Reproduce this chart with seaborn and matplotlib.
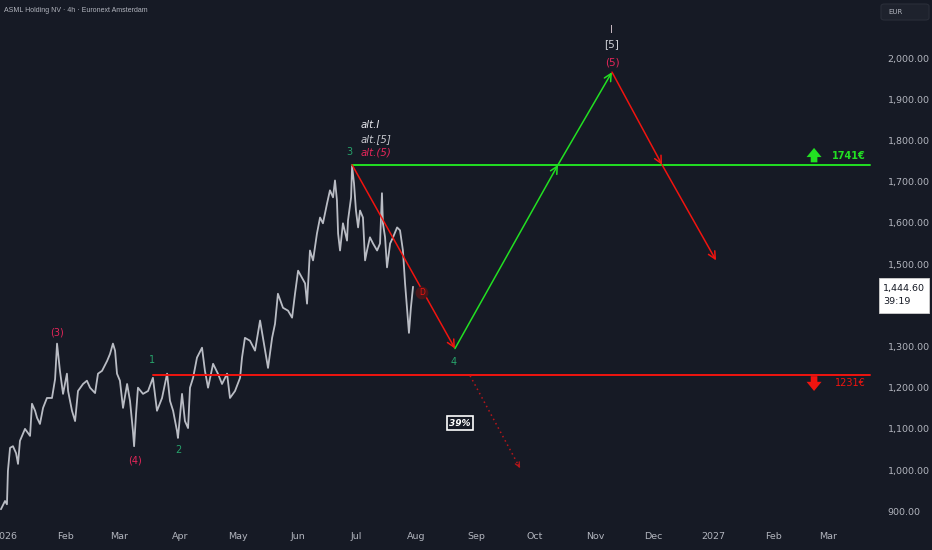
import pandas as pd
import numpy as np
import matplotlib
matplotlib.use("Agg")
import matplotlib.pyplot as plt
from matplotlib.patches import Rectangle, FancyBboxPatch
import seaborn as sns

# ==========================================
# Data
# ==========================================

# days since 2026-01-01 and price in EUR
price_days = [
    -2.1, 0.0, 1.0, 1.5, 2.6, 4.1, 5.7, 6.7, 7.7, 10.3, 12.9, 13.9, 15.5, 16.5,
    18.0, 19.6, 21.6, 24.2, 25.8, 26.8, 28.3, 29.9, 31.9, 32.5, 34.5, 36.1,
    37.6, 40.2, 42.2, 43.8, 46.4, 47.9, 50.0, 52.6, 54.1, 55.6, 56.7, 57.7,
    59.2, 60.8, 62.9, 64.4, 65.9, 66.5, 67.5, 68.5, 71.1, 73.7, 76.2, 78.3,
    80.9, 83.5, 85.0, 86.6, 88.6, 89.1, 91.2, 92.7, 94.3, 95.3, 96.9, 98.9,
    101.5, 103.0, 104.6, 107.2, 109.7, 111.8, 114.4, 115.9, 118.5, 121.1,
    122.1, 123.6, 126.2, 128.8, 131.4, 132.9, 135.5, 137.6, 139.1, 140.6,
    143.2, 145.8, 147.9, 149.4, 151.0, 153.0, 154.6, 155.6, 157.1, 158.7,
    160.7, 162.3, 163.8, 165.9, 167.4, 169.0, 170.0, 171.0, 171.6, 172.6,
    174.1, 176.2, 176.7, 178.3, 178.8, 179.8, 180.8, 181.9, 182.9, 184.4,
    185.5, 186.5, 188.0, 189.6, 191.7, 193.2, 194.2, 194.7, 195.8, 196.8,
    198.4, 199.9, 202.0, 203.5, 205.0, 206.1, 207.1, 208.1, 209.1, 210.2,
]
price_values = [
    905, 925, 917, 998, 1054, 1058, 1041, 1015, 1071, 1100, 1083, 1161, 1144,
    1127, 1112, 1151, 1175, 1175, 1221, 1307, 1241, 1185, 1234, 1192, 1144,
    1119, 1192, 1209, 1217, 1200, 1187, 1234, 1241, 1265, 1282, 1307, 1290,
    1234, 1217, 1151, 1209, 1168, 1095, 1058, 1136, 1200, 1185, 1192, 1224,
    1144, 1175, 1234, 1168, 1144, 1095, 1078, 1185, 1119, 1102, 1200, 1224,
    1273, 1297, 1241, 1200, 1258, 1234, 1209, 1234, 1175, 1192, 1224, 1273,
    1321, 1314, 1290, 1363, 1321, 1248, 1321, 1355, 1428, 1394, 1387, 1370,
    1428, 1484, 1467, 1453, 1404, 1533, 1509, 1574, 1613, 1599, 1647, 1679,
    1662, 1703, 1655, 1574, 1533, 1599, 1557, 1606, 1662, 1738, 1696, 1630,
    1589, 1630, 1613, 1509, 1533, 1565, 1550, 1533, 1550, 1672, 1599, 1565,
    1492, 1550, 1565, 1589, 1582, 1533, 1453, 1394, 1333, 1394, 1445,
]

# projected wave path (main scenario)
wave_days = [178.8, 231.8, 284.9, 312.7, 338.5, 366.3]
wave_prices = [1741, 1295, 1741, 1966, 1741, 1509]
wave_colors = ['red', 'green', 'green', 'red', 'red']

# alternative path (dotted)
alt_days = [239.6, 265.3]
alt_prices = [1229, 1005]

# key levels
upper_level = 1741
lower_level = 1231
upper_start = 178.8
lower_start = 76.2
level_end = 445.6

last_price = 1444.60
countdown = "39:19"

month_days = [0, 31, 59, 90, 120, 151, 181, 212, 243, 273, 304, 334, 365, 396, 424]
month_labels = ['2026', 'Feb', 'Mar', 'Apr', 'May', 'Jun', 'Jul', 'Aug',
                'Sep', 'Oct', 'Nov', 'Dec', '2027', 'Feb', 'Mar']
price_ticks = [900, 1000, 1100, 1200, 1300, 1500, 1600, 1700, 1800, 1900, 2000]

# ==========================================
# Style
# ==========================================

BG = '#161a25'
TXT = '#b2b5be'
GREEN = '#22e022'
RED = '#f0140f'
CRIMSON = '#e6265a'
WAVEGREEN = '#27a36b'
line_col = {'red': RED, 'green': GREEN}

sns.set_theme(style="dark", rc={
    'axes.facecolor': BG,
    'figure.facecolor': BG,
    'axes.edgecolor': BG,
})
plt.rcParams['font.family'] = ['DejaVu Sans']

fig = plt.figure(figsize=(9.32, 5.5), dpi=100)
ax = fig.add_axes([0, 28 / 550, 875 / 932, 522 / 550])

# ==========================================
# Price
# ==========================================

df = pd.DataFrame({'day': price_days, 'price': price_values})
sns.lineplot(data=df, x='day', y='price', ax=ax, color='#b9bcc4', lw=1.3)

# levels
ax.plot([upper_start, level_end], [upper_level, upper_level], color=GREEN, lw=1.4)
ax.plot([lower_start, level_end], [lower_level, lower_level], color=RED, lw=1.4)

# wave arrows
for i, c in enumerate(wave_colors):
    ax.annotate('', xy=(wave_days[i + 1], wave_prices[i + 1]),
                xytext=(wave_days[i], wave_prices[i]),
                arrowprops=dict(arrowstyle='->', color=line_col[c], lw=1.1,
                                mutation_scale=13, shrinkA=0, shrinkB=0))

ax.plot(alt_days, alt_prices, color='#b8161a', lw=1.1, ls=(0, (1, 2.2)))
ax.annotate('', xy=(alt_days[1], alt_prices[1]),
            xytext=(alt_days[1] - 1.0, alt_prices[1] + 9),
            arrowprops=dict(arrowstyle='->', color='#b8161a', lw=0.9,
                            mutation_scale=8, shrinkA=0, shrinkB=0))

# ==========================================
# Labels
# ==========================================

ax.text(26.8, 1335, '(3)', color=CRIMSON, fontsize=7, ha='center', va='center')
ax.text(67.0, 1024, '(4)', color=CRIMSON, fontsize=7, ha='center', va='center')
ax.text(75.7, 1267, '1', color=WAVEGREEN, fontsize=7, ha='center', va='center')
ax.text(89.1, 1049, '2', color=WAVEGREEN, fontsize=7, ha='center', va='center')
ax.text(177.2, 1772, '3', color=WAVEGREEN, fontsize=7, ha='center', va='center')
ax.text(231.3, 1262, '4', color=WAVEGREEN, fontsize=7, ha='center', va='center')

ax.text(183.4, 1837, 'alt.I', color='#e8e8ee', fontsize=7.3, style='italic',
        ha='left', va='center')
ax.text(183.4, 1803, 'alt.[5]', color='#c8cad0', fontsize=7.3, style='italic',
        ha='left', va='center')
ax.text(183.4, 1772, 'alt.(5)', color=CRIMSON, fontsize=7.3, style='italic',
        ha='left', va='center')

ax.text(312.7, 2068, 'I', color='#c9b9c2', fontsize=7.5, ha='center', va='center')
ax.text(312.7, 2034, '[5]', color='#d0d2d8', fontsize=7.5, ha='center', va='center')
ax.text(312.7, 1990, '(5)', color=CRIMSON, fontsize=7.5, ha='center', va='center')

ax.text(234.4, 1114, '39%', color='white', fontsize=6.5, weight='bold',
        style='italic', ha='center', va='center',
        bbox=dict(boxstyle='square,pad=0.3', fc=BG, ec='white', lw=1.2))

ax.text(214.8, 1430, 'D', color=RED, fontsize=5.5, ha='center', va='center',
        bbox=dict(boxstyle='circle,pad=0.25', fc='#4a1519', ec='none'))

# level tags
icon = 'simple,head_width=0.9,head_length=0.55,tail_width=0.4'
ax.annotate('', xy=(416.8, 1782), xytext=(416.8, 1747),
            arrowprops=dict(arrowstyle=icon, color=GREEN, lw=0,
                            shrinkA=0, shrinkB=0))
ax.text(443.6, 1762, '1741€', color=GREEN, fontsize=7, weight='bold',
        ha='right', va='center')
ax.annotate('', xy=(416.8, 1192), xytext=(416.8, 1228),
            arrowprops=dict(arrowstyle=icon, color=RED, lw=0,
                            shrinkA=0, shrinkB=0))
ax.text(443.6, 1211, '1231€', color=RED, fontsize=7, ha='right', va='center')

# ==========================================
# Axes
# ==========================================

ax.set_xlim(-2.58, 448.2)
ax.set_ylim(874, 2141)
ax.set_xlabel('')
ax.set_ylabel('')
ax.grid(False)
for s in ax.spines.values():
    s.set_visible(False)

ax.set_xticks(month_days)
ax.set_xticklabels(month_labels)
ax.yaxis.tick_right()
ax.set_yticks(price_ticks)
ax.set_yticklabels([f'{v:,.2f}' for v in price_ticks])
ax.tick_params(axis='both', length=0, colors=TXT, labelsize=6.8)
ax.tick_params(axis='x', pad=7)
ax.tick_params(axis='y', pad=9)

# title and header
fig.text(4 / 932, 1 - 11 / 550, 'ASML Holding NV · 4h · Euronext Amsterdam',
         color=TXT, fontsize=5.0, ha='left', va='center',
         family=['Liberation Sans', 'DejaVu Sans'])
fig.patches.append(FancyBboxPatch((881 / 932, 1 - 20 / 550), 48 / 932, 16 / 550,
                                  boxstyle='round,pad=0,rounding_size=0.004',
                                  transform=fig.transFigure, fc='#1e222d',
                                  ec='#2a2e39', lw=0.8))
fig.text(888 / 932, 1 - 12 / 550, 'EUR', color=TXT, fontsize=5, ha='left',
         va='center')

# last price tag
fig.patches.append(Rectangle((879 / 932, 1 - 313 / 550), 50 / 932, 35 / 550,
                             transform=fig.transFigure, fc='white',
                             ec='#d0d0d0', lw=0.6))
fig.text(883 / 932, 1 - 288 / 550, f'{last_price:,.2f}', color='#131722',
         fontsize=6.8, ha='left', va='center')
fig.text(883 / 932, 1 - 302 / 550, countdown, color='#131722',
         fontsize=6.8, ha='left', va='center')

fig.savefig('out.png', dpi=100, facecolor=BG)
